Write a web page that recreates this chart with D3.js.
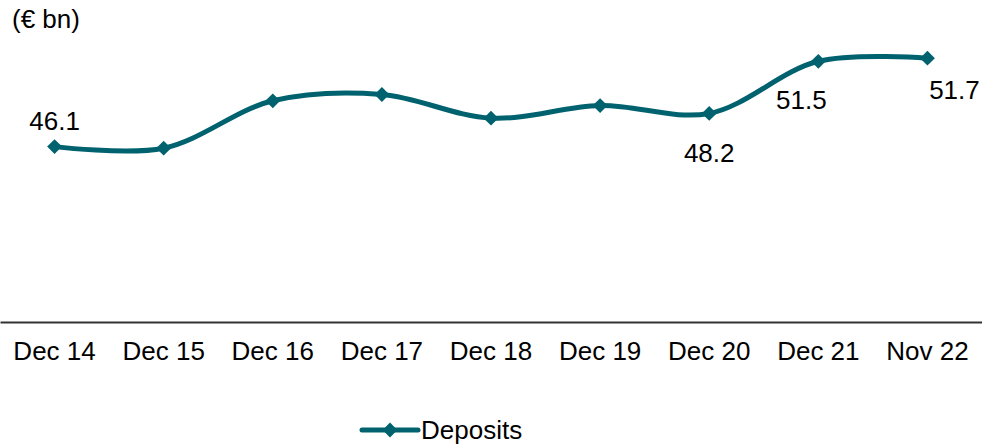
<!DOCTYPE html>
<html>
<head>
<meta charset="utf-8">
<script src="https://cdn.jsdelivr.net/npm/d3@7"></script>
<style>
  body { margin: 0; background: #fff; }
  svg { display: block; font-family: "Liberation Sans", Arial, sans-serif; }
</style>
</head>
<body>
<svg id="chart" width="982" height="447"></svg>
<script>
// データ
var categories = ["Dec 14", "Dec 15", "Dec 16", "Dec 17", "Dec 18", "Dec 19", "Dec 20", "Dec 21", "Nov 22"];
var deposits = [46.1, 46.0, 49.0, 49.4, 47.9, 48.7, 48.2, 51.5, 51.7];
// ラベルを付ける点と、その置き方
var labelIndex = [0, 6, 7, 8];
var labelPlace = ["above", "below", "belowLeft", "belowRight"];
var unitLabel = "(€ bn)";
var seriesName = "Deposits";

var lineColor = "#00626f";
var fontSize = 26;

var svg = d3.select("#chart");

var xScale = d3.scaleBand().domain(categories).range([0, 982]);
var yScale = d3.scaleLinear().domain([35, 55]).range([322, 6]);

// x軸
var xAxis = d3.axisBottom(xScale).tickSize(0).tickPadding(20);
var gx = svg.append("g").attr("transform", "translate(0,322)").call(xAxis);
gx.select(".domain").attr("stroke", "#333").attr("stroke-width", 2);
gx.selectAll("text").attr("font-size", fontSize).attr("fill", "#000")
  .attr("font-family", "Liberation Sans, Arial, sans-serif");

// 単位
svg.append("text").attr("x", 12).attr("y", 28)
  .attr("font-size", fontSize).text(unitLabel);

// 折れ線
var cx = (d, i) => xScale(categories[i]) + xScale.bandwidth() / 2;
var line = d3.line().x(cx).y((d) => yScale(d)).curve(d3.curveCatmullRom.alpha(0.5));
svg.append("path").datum(deposits).attr("d", line)
  .attr("fill", "none").attr("stroke", lineColor).attr("stroke-width", 5);

var diamond = d3.symbol().type(d3.symbolDiamond2).size(140);
svg.selectAll(".pt").data(deposits).enter().append("path")
  .attr("class", "pt").attr("d", diamond)
  .attr("transform", (d, i) => `translate(${cx(d, i)},${yScale(d)})`)
  .attr("fill", lineColor);

// データラベル
var offsets = {
  above: [0, -17],
  below: [0, 49],
  belowLeft: [-17, 48],
  belowRight: [27, 41],
};
svg.selectAll(".lbl").data(labelIndex).enter().append("text")
  .attr("class", "lbl")
  .attr("x", (k, j) => cx(null, k) + offsets[labelPlace[j]][0])
  .attr("y", (k, j) => yScale(deposits[k]) + offsets[labelPlace[j]][1])
  .attr("text-anchor", "middle").attr("font-size", fontSize)
  .text((k) => deposits[k].toFixed(1));

// 凡例
var lg = svg.append("g").attr("transform", "translate(362,430)");
lg.append("line").attr("x1", 0).attr("x2", 56).attr("stroke", lineColor)
  .attr("stroke-width", 5).attr("stroke-linecap", "round");
lg.append("path").attr("d", diamond).attr("transform", "translate(28,0)").attr("fill", lineColor);
lg.append("text").attr("x", 59).attr("y", 9).attr("font-size", fontSize).text(seriesName);
</script>
</body>
</html>
